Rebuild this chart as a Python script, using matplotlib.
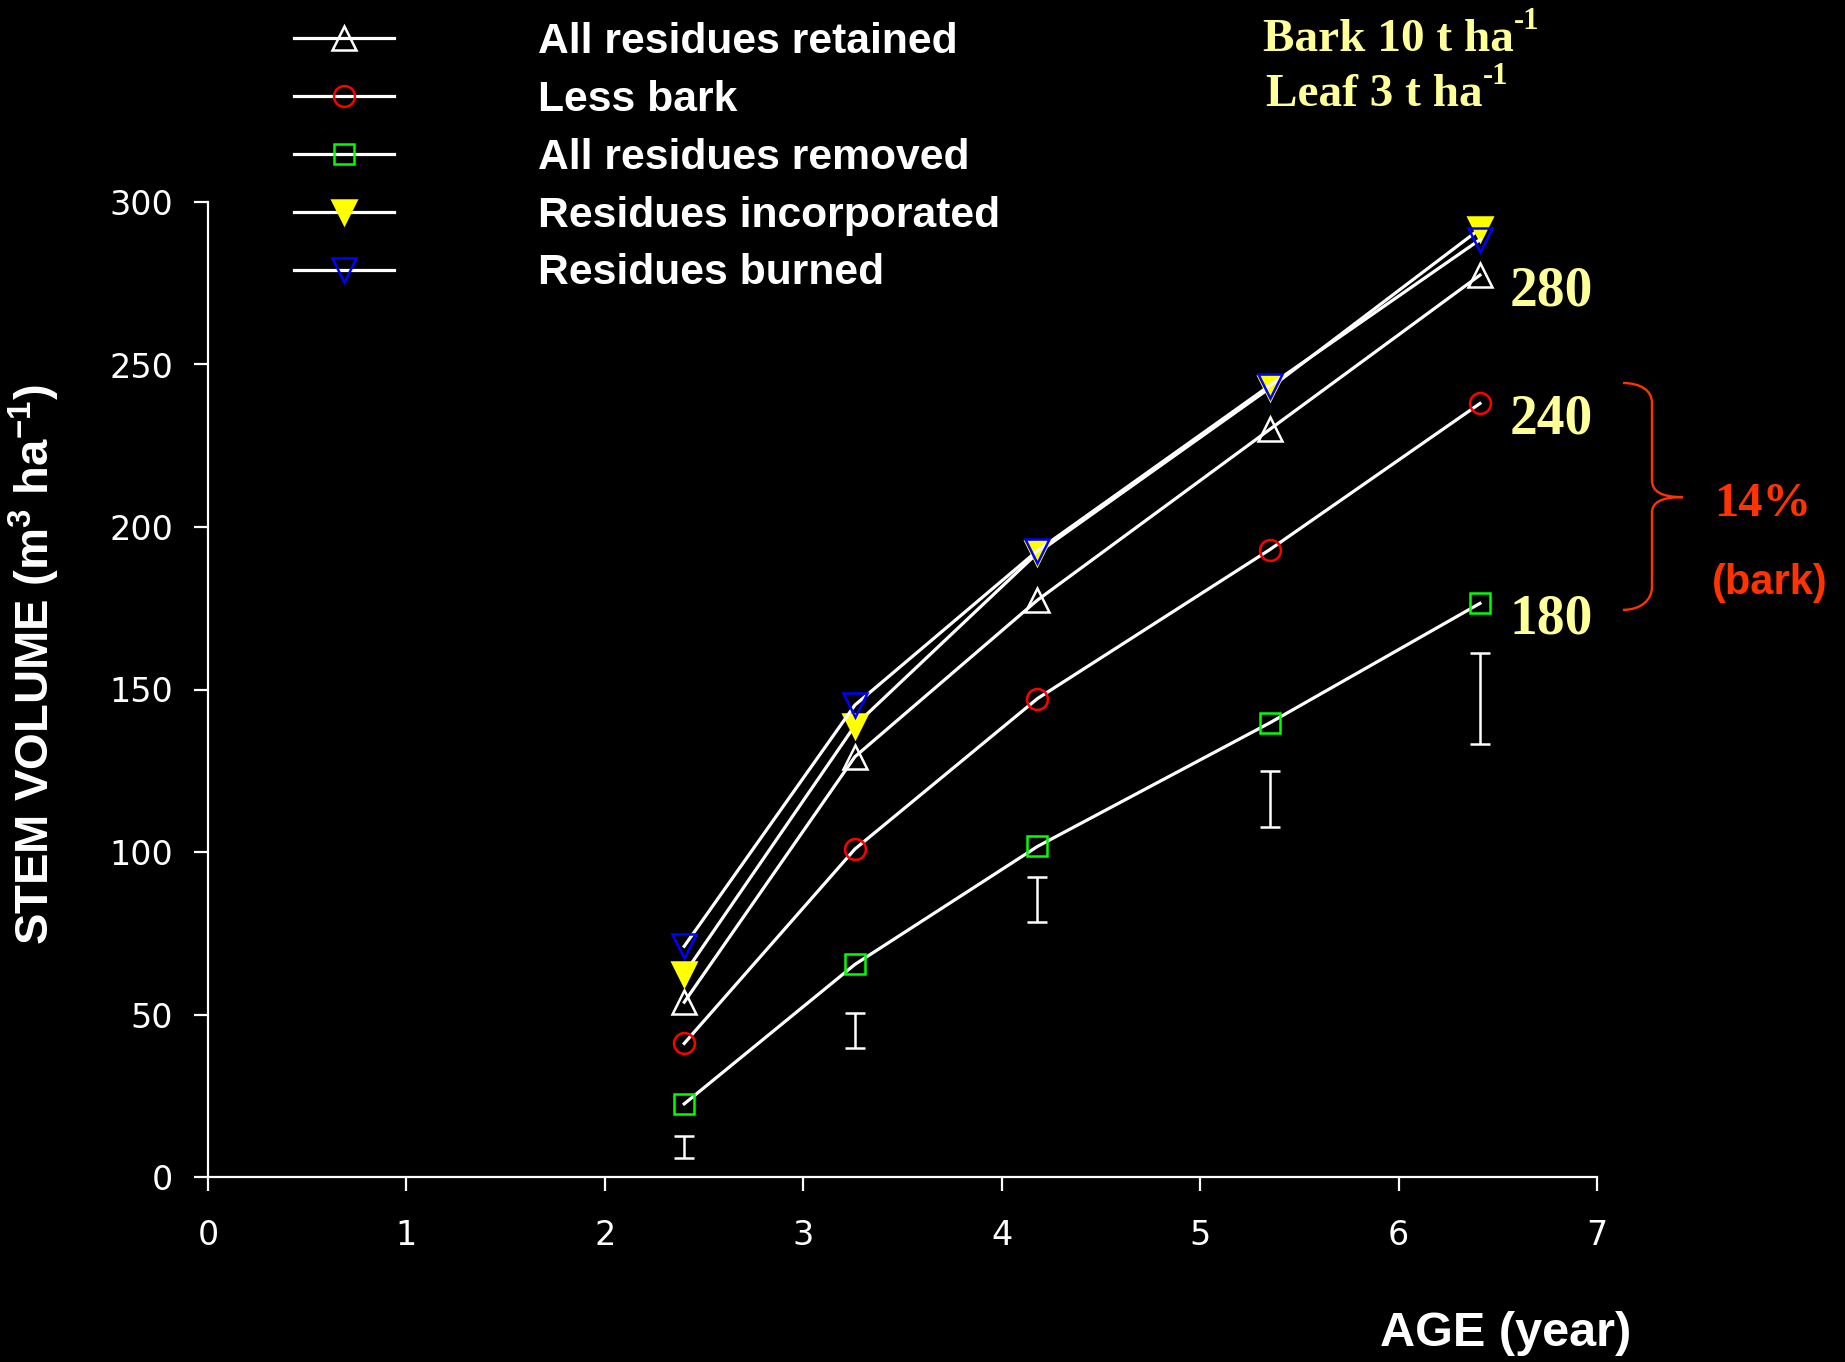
import matplotlib
matplotlib.use("Agg")
import matplotlib.pyplot as plt
from matplotlib.path import Path
from matplotlib.patches import PathPatch

plt.rcParams['mathtext.default'] = 'regular'

# ---- data ----
age = [2.40, 3.26, 4.18, 5.35, 6.41]
retained = [53.8, 129.3, 177.5, 230.0, 277.5]
less_bark = [41.1, 100.9, 147.2, 193.0, 238.0]
removed = [22.5, 65.4, 101.7, 139.7, 176.5]
incorporated = [62.5, 138.9, 192.0, 242.7, 291.7]
burned = [71.0, 145.2, 192.7, 243.5, 288.4]

err_low = [5.9, 39.6, 78.4, 107.8, 133.3]
err_high = [12.7, 50.4, 92.2, 124.9, 161.2]

series_labels = ["All residues retained", "Less bark", "All residues removed",
                 "Residues incorporated", "Residues burned"]
end_labels = ["280", "240", "180"]
end_values = [277.5, 238.0, 176.5]

xticks = [0, 1, 2, 3, 4, 5, 6, 7]
yticks = [0, 50, 100, 150, 200, 250, 300]

W, H = 1845, 1362
fig = plt.figure(figsize=(W / 100, H / 100), dpi=100, facecolor='black')
ax = fig.add_axes([208 / W, 1 - 1177 / H, (1597 - 208) / W, (1177 - 202) / H])
ax.set_facecolor('black')

lw = 2.3
mew = 1.8
styles = [
    dict(marker='^', ms=17, mfc='none', mec='white'),
    dict(marker='o', ms=15, mfc='none', mec='#FF0000'),
    dict(marker='s', ms=15, mfc='none', mec='#00FF00'),
    dict(marker='v', ms=17, mfc='#FFFF00', mec='#FFFF00'),
    dict(marker='v', ms=17, mfc='none', mec='#0000FF'),
]
handles = []
for ys, st, lab in zip([retained, less_bark, removed, incorporated, burned], styles, series_labels):
    h, = ax.plot(age, ys, color='white', lw=lw, mew=mew, label=lab, zorder=3, **st)
    handles.append(h)

centers = [(a + b) / 2 for a, b in zip(err_low, err_high)]
halfs = [(b - a) / 2 for a, b in zip(err_low, err_high)]
ax.errorbar(age, centers, yerr=halfs, fmt='none', ecolor='white', elinewidth=1.8,
            capsize=7.5, capthick=1.8, zorder=2)

ax.set_xlim(0, 7)
ax.set_ylim(0, 300)
ax.set_xticks(xticks)
ax.set_yticks(yticks)
for s in ['top', 'right']:
    ax.spines[s].set_visible(False)
for s in ['left', 'bottom']:
    ax.spines[s].set_color('white')
    ax.spines[s].set_linewidth(1.6)
ax.tick_params(axis='both', colors='white', direction='out', length=10, width=1.6,
               labelsize=24)
ax.tick_params(axis='x', pad=20)
ax.tick_params(axis='y', pad=15)
for t in ax.get_xticklabels() + ax.get_yticklabels():
    t.set_fontfamily('DejaVu Sans')

ax.set_ylabel('STEM VOLUME (m$^3$ ha$^{-1}$)', color='white', fontsize=34,
              fontweight='bold', fontfamily='Liberation Sans', va='center')
ax.yaxis.set_label_coords(-0.125, 0.525)
ax.set_xlabel('AGE (year)', color='white', fontsize=35, fontweight='bold',
              fontfamily='Liberation Sans', ha='right', va='center')
ax.xaxis.set_label_coords(1.025, -0.160)

leg = ax.legend(handles=handles, loc='upper left', bbox_to_anchor=(294 / W, 0.984),
                bbox_transform=fig.transFigure, frameon=False, borderpad=0,
                borderaxespad=0, handlelength=2.35, handletextpad=3.38,
                labelspacing=0.42, prop=dict(family='Liberation Sans', weight='bold', size=30.7))
for t in leg.get_texts():
    t.set_color('white')

yel = '#FFFF99'
red = '#FF3300'
for lab, v in zip(end_labels, end_values):
    ax.text(6.77, v - 5.0, lab, color=yel, fontsize=40, fontweight='bold',
            fontfamily='Liberation Serif', ha='center', va='center', clip_on=False)

serif_b = dict(color=yel, fontweight='bold', fontfamily='Liberation Serif')
t1 = fig.text(1263 / W, 1 - 40 / H, 'Bark 10 t ha', fontsize=34, ha='left', va='center', **serif_b)
ax.annotate('-1', xy=(1.0, 0.6), xycoords=t1, ha='left', va='bottom', fontsize=22,
            annotation_clip=False, **serif_b)
t2 = fig.text(1266 / W, 1 - 95 / H, 'Leaf 3 t ha', fontsize=34, ha='left', va='center', **serif_b)
ax.annotate('-1', xy=(1.0, 0.6), xycoords=t2, ha='left', va='bottom', fontsize=22,
            annotation_clip=False, **serif_b)

fig.text(1763 / W, 1 - 504 / H, '14%', color=red, fontsize=35, fontweight='bold',
         fontfamily='Liberation Serif', ha='center', va='center')
fig.text(1770 / W, 1 - 583 / H, '(bark)', color=red, fontsize=30, fontweight='bold',
         fontfamily='Liberation Sans', ha='center', va='center')

# brace
verts = [(7.131, 244.3), (7.22, 244.3), (7.277, 242.0), (7.277, 238.2),
         (7.277, 214.5),
         (7.277, 211.0), (7.32, 209.2), (7.433, 209.2),
         (7.32, 209.2), (7.277, 207.5), (7.277, 204.3),
         (7.277, 181.5),
         (7.277, 177.5), (7.22, 174.5), (7.131, 174.5)]
codes = [Path.MOVETO, Path.CURVE4, Path.CURVE4, Path.CURVE4,
         Path.LINETO,
         Path.CURVE4, Path.CURVE4, Path.CURVE4,
         Path.CURVE4, Path.CURVE4, Path.CURVE4,
         Path.LINETO,
         Path.CURVE4, Path.CURVE4, Path.CURVE4]
ax.add_patch(PathPatch(Path(verts, codes), fill=False, edgecolor=red, lw=1.7,
                       clip_on=False))

fig.savefig('out.png', dpi=100, facecolor='black')
